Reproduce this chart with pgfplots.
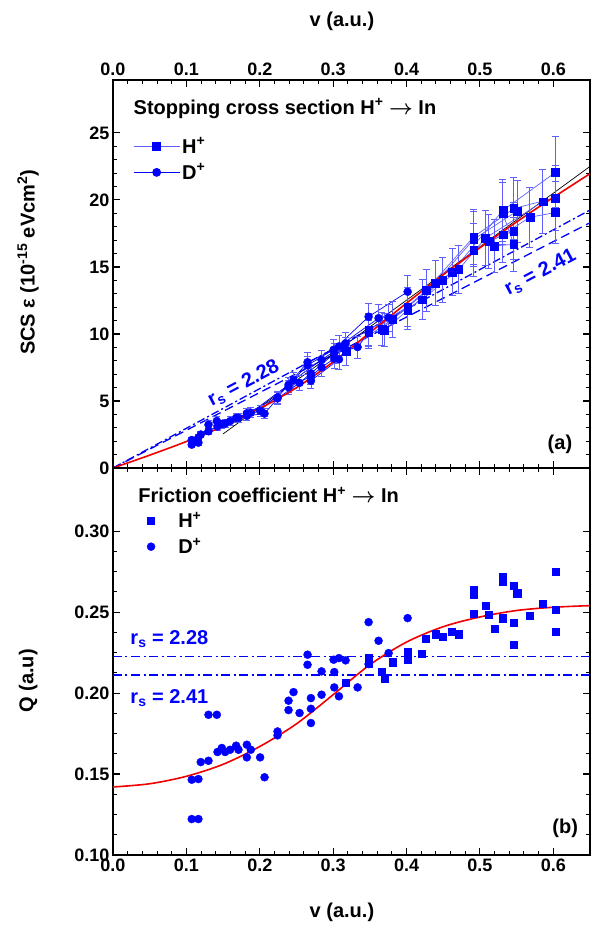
\documentclass[border=0pt]{standalone}
\usepackage{pgfplots}
\pgfplotsset{compat=1.18}
\usepackage{fontspec}
\setmainfont{Liberation Sans}
\definecolor{myblue}{RGB}{0,0,255}
\definecolor{lblue}{RGB}{95,95,255}
\definecolor{myred}{RGB}{240,0,0}
\newcommand{\tickfont}{\fontsize{18}{20}\selectfont\bfseries}
\newcommand{\labfont}{\fontsize{20}{24}\selectfont\bfseries}
\begin{document}
\begin{tikzpicture}
\pgfplotsset{
  every axis/.append style={
    scale only axis, width=477pt,
    xmin=0, xmax=0.65,
    xtick={0,0.1,0.2,0.3,0.4,0.5,0.6}, minor x tick num=4,
    tick align=inside, xtick pos=both, ytick pos=both,
    major tick length=7pt, minor tick length=4pt,
    axis line style={line width=1.3pt},
    major tick style={line width=1.1pt,black},
    minor tick style={line width=1pt,black},
    tick label style={font=\tickfont},
    /pgf/number format/assume math mode=true,
    x tick label style={/pgf/number format/fixed,/pgf/number format/fixed zerofill,/pgf/number format/precision=1},
    label style={font=\labfont},
  }
}
% ================= TOP PANEL =================
\begin{axis}[name=top, height=388pt,
  ymin=0, ymax=28.95, ytick={0,5,10,15,20,25}, minor y tick num=4,
  xticklabel pos=right,
  x tick label style={yshift=1pt},
  xlabel={v (a.u.)},
  xlabel style={at={(axis description cs:0.48,1)},anchor=center,yshift=59pt},
  ylabel={SCS ε (10\textsuperscript{-15} eVcm\textsuperscript{2})},
  ylabel style={at={(axis description cs:-0.178,0.53)},anchor=center},
  legend style={at={(axis description cs:0.04,0.86)},anchor=north west,draw=none,fill=none,
    font=\labfont,row sep=5pt,inner sep=1pt},
  legend cell align=left,
  legend image code/.code={\draw[mark repeat=2,mark phase=2,#1] plot coordinates {(0pt,0pt) (23pt,0pt) (46pt,0pt)};},
]
\addlegendimage{lblue,line width=0.8pt,mark=square*,mark size=3.8pt,mark options={myblue,solid}}
\addlegendentry{H\textsuperscript{+}}
\addlegendimage{myblue,line width=0.8pt,mark=*,mark size=4pt,mark options={myblue,solid}}
\addlegendentry{D\textsuperscript{+}}

% reference lines
\addplot[myblue,line width=1.3pt,dash pattern=on 8pt off 3pt on 2pt off 3pt,forget plot] coordinates {(0,0) (0.65,19.25)};
\addplot[myblue,line width=1.3pt,dash pattern=on 9pt off 5pt,forget plot] coordinates {(0,0) (0.65,18.3)};
\addplot[black,line width=0.7pt,forget plot] coordinates {(0.15,2.54) (0.65,22.5)};

% D+ connecting lines
\addplot[myblue,line width=0.7pt,no marks,forget plot] coordinates {(0.1073,2.09)(0.1196,2.50)(0.1424,3.10)(0.1596,3.50)(0.1824,4.08)(0.2242,5.26)(0.2651,7.89)(0.3006,8.82)(0.3483,11.29)(0.4015,13.15)};
\addplot[myblue,line width=0.7pt,no marks,forget plot] coordinates {(0.1164,2.27)(0.1301,2.74)(0.1483,3.28)(0.1678,3.74)(0.1878,4.12)(0.2392,6.21)(0.2651,7.67)(0.3079,9.07)(0.3619,11.18)};
\addplot[myblue,line width=0.7pt,no marks,forget plot] coordinates {(0.1073,1.74)(0.1164,1.89)(0.1301,3.23)(0.1415,3.51)(0.1528,3.32)(0.1710,3.75)(0.2005,4.27)(0.2460,6.56)(0.2842,8.07)(0.3170,9.28)(0.3756,11.22)};
\addplot[myblue,line width=0.7pt,no marks,forget plot] coordinates {(0.1824,3.89)(0.2065,4.06)(0.2242,5.19)(0.2542,6.35)(0.2697,7.06)(0.3015,8.54)(0.3333,9.02)(0.3483,10.09)};
\addplot[myblue,line width=0.7pt,no marks,forget plot] coordinates {(0.2392,6.03)(0.2697,6.83)(0.2842,7.52)(0.3015,8.16)};
\addplot[myblue,line width=0.7pt,no marks,forget plot] coordinates {(0.2697,6.51)(0.3079,8.11)};

% H+ connecting lines
\addplot[lblue,line width=0.7pt,no marks,forget plot] coordinates {(0.3483,10.27)(0.4015,12.03)(0.4620,14.63)(0.5312,19.22)(0.6030,22.06)};
\addplot[lblue,line width=0.7pt,no marks,forget plot] coordinates {(0.3665,10.38)(0.4266,13.25)(0.4916,17.25)(0.5461,19.36)(0.6030,20.16)};
\addplot[lblue,line width=0.7pt,no marks,forget plot] coordinates {(0.3174,8.70)(0.3811,11.11)(0.4393,13.81)(0.4916,17.07)(0.5507,19.17)};
\addplot[lblue,line width=0.7pt,no marks,forget plot] coordinates {(0.3483,10.12)(0.4211,12.56)(0.4711,14.81)(0.5075,17.15)(0.5857,19.87)};
\addplot[lblue,line width=0.7pt,no marks,forget plot] coordinates {(0.3697,10.27)(0.4015,11.78)(0.4493,14.02)(0.4916,16.27)(0.5312,17.40)(0.5680,18.71)(0.6030,19.06)};
\addplot[lblue,line width=0.7pt,no marks,forget plot] coordinates {(0.5121,16.92)(0.5461,17.69)};
\addplot[lblue,line width=0.7pt,no marks,forget plot] coordinates {(0.5198,16.57)(0.5461,16.69)(0.5312,19.00)};

% D+ points with error bars
\addplot[only marks,mark=*,mark size=4pt,myblue,forget plot,
  error bars/.cd,y dir=both,y fixed relative=0.09,
  error bar style={lblue,line width=0.8pt},
  error mark options={rotate=90,lblue,mark size=3.5pt,line width=0.8pt}]
 coordinates {
(0.1073,2.09)(0.1164,2.27)(0.1073,1.74)(0.1164,1.89)(0.1196,2.50)(0.1301,2.74)(0.1301,3.23)(0.1415,3.51)
(0.1424,3.10)(0.1483,3.28)(0.1528,3.32)(0.1596,3.50)(0.1678,3.74)(0.1710,3.75)(0.1824,4.08)(0.1824,3.89)
(0.1878,4.12)(0.2005,4.27)(0.2065,4.06)(0.2242,5.26)(0.2242,5.19)(0.2392,6.21)(0.2392,6.03)(0.2460,6.56)
(0.2542,6.35)(0.2651,7.89)(0.2651,7.67)(0.2697,7.06)(0.2697,6.83)(0.2697,6.51)(0.2842,8.07)(0.2842,7.52)
(0.3006,8.82)(0.3015,8.54)(0.3015,8.16)(0.3079,9.07)(0.3079,8.11)(0.3170,9.28)(0.3333,9.02)(0.3483,11.29)
(0.3483,10.09)(0.3619,11.18)(0.3756,11.22)(0.4015,13.15)};

% H+ points with error bars
\addplot[only marks,mark=square*,mark size=3.9pt,myblue,forget plot,
  error bars/.cd,y dir=both,y fixed relative=0.12,
  error bar style={lblue,line width=0.8pt},
  error mark options={rotate=90,lblue,mark size=3.5pt,line width=0.8pt}]
 coordinates {
(0.3174,8.70)(0.3483,10.27)(0.3483,10.12)(0.3665,10.38)(0.3697,10.27)(0.3811,11.11)(0.4015,12.03)(0.4015,11.78)
(0.4211,12.56)(0.4266,13.25)(0.4393,13.81)(0.4493,14.02)(0.4620,14.63)(0.4711,14.81)(0.4916,17.25)(0.4916,17.07)
(0.4916,16.27)(0.5075,17.15)(0.5121,16.92)(0.5198,16.57)(0.5312,19.22)(0.5312,19.00)(0.5312,17.40)(0.5461,19.36)
(0.5507,19.17)(0.5461,17.69)(0.5461,16.69)(0.5680,18.71)(0.5857,19.87)(0.6030,22.06)(0.6030,20.16)(0.6030,19.06)};

% fit
\addplot[myred,line width=1.6pt,smooth,forget plot] coordinates {(0,0)(0.05,0.958)(0.1,1.976)(0.15,3.11)(0.2,4.44)(0.25,5.99)(0.3,7.92)(0.35,10.1)(0.4,12.3)(0.45,14.42)(0.5,16.43)(0.55,18.36)(0.6,20.19)(0.65,21.96)};

\node[anchor=west,font=\labfont] at (axis description cs:0.036,0.927) {Stopping cross section H\textsuperscript{+} {\boldmath$\rightarrow$} In};
\node[font=\labfont] at (axis description cs:0.937,0.06) {(a)};
\node[rotate=28,text=myblue,font=\labfont] at (axis cs:0.178,6.3) {r\textsubscript{s} = 2.28};
\node[rotate=28,text=myblue,font=\labfont] at (axis cs:0.5825,14.6) {r\textsubscript{s} = 2.41};
\end{axis}

% ================= BOTTOM PANEL =================
\begin{axis}[at={([yshift=-2pt]top.south west)},anchor=north west, height=387pt,
  ymin=0.1, ymax=0.339, ytick={0.10,0.15,0.20,0.25,0.30}, minor y tick num=3,
  y tick label style={/pgf/number format/fixed,/pgf/number format/fixed zerofill,/pgf/number format/precision=2},
  xlabel={v (a.u.)},
  xlabel style={at={(axis description cs:0.48,0)},anchor=center,yshift=-57pt},
  ylabel={Q (a.u)},
  ylabel style={at={(axis description cs:-0.178,0.45)},anchor=center},
  legend style={at={(axis description cs:0.058,0.895)},anchor=north west,draw=none,fill=none,
    font=\labfont,row sep=5pt,inner sep=1pt},
  legend cell align=left,
  legend image code/.code={\path (0pt,0pt) (34pt,0pt); \draw[#1] plot coordinates {(9pt,0pt)};},
]
\addlegendimage{only marks,mark=square*,mark size=3.6pt,myblue}
\addlegendentry{H\textsuperscript{+}}
\addlegendimage{only marks,mark=*,mark size=4pt,myblue}
\addlegendentry{D\textsuperscript{+}}

\addplot[myblue,line width=1.3pt,dash pattern=on 9pt off 3.5pt on 2pt off 3.5pt,forget plot] coordinates {(0,0.2228) (0.65,0.2228)};
\addplot[myblue,line width=1.3pt,dash pattern=on 9pt off 3.5pt on 2pt off 3.5pt,forget plot] coordinates {(0,0.2111) (0.65,0.2111)};

\addplot[only marks,mark=*,mark size=4pt,myblue,forget plot] coordinates {
(0.1073,0.1465)(0.1164,0.1469)(0.1073,0.1222)(0.1164,0.1222)(0.1196,0.1574)(0.1301,0.1582)(0.1301,0.1866)(0.1415,0.1866)
(0.1424,0.1636)(0.1483,0.1661)(0.1528,0.1636)(0.1596,0.1650)(0.1678,0.1675)(0.1710,0.1650)(0.1824,0.1681)(0.1824,0.1603)
(0.1878,0.1650)(0.2005,0.1603)(0.2065,0.1480)(0.2242,0.1763)(0.2242,0.1739)(0.2392,0.1953)(0.2392,0.1895)(0.2460,0.2006)
(0.2542,0.1877)(0.2651,0.2237)(0.2651,0.2175)(0.2697,0.1969)(0.2697,0.1903)(0.2697,0.1815)(0.2842,0.2134)(0.2842,0.1990)
(0.3006,0.2206)(0.3015,0.2130)(0.3015,0.2035)(0.3079,0.2216)(0.3079,0.1980)(0.3170,0.2202)(0.3333,0.2035)(0.3483,0.2438)
(0.3483,0.2179)(0.3619,0.2323)(0.3756,0.2247)(0.4015,0.2463)};

\addplot[only marks,mark=square*,mark size=3.6pt,myblue,forget plot] coordinates {
(0.3174,0.2062)(0.3483,0.2216)(0.3483,0.2185)(0.3665,0.2130)(0.3697,0.2088)(0.3811,0.2191)(0.4015,0.2253)(0.4015,0.2206)
(0.4211,0.2243)(0.4266,0.2335)(0.4393,0.2364)(0.4493,0.2346)(0.4620,0.2381)(0.4711,0.2364)(0.4916,0.2638)(0.4916,0.2611)
(0.4916,0.2488)(0.5075,0.2541)(0.5121,0.2484)(0.5198,0.2397)(0.5312,0.2720)(0.5312,0.2689)(0.5312,0.2463)(0.5461,0.2665)
(0.5507,0.2617)(0.5461,0.2436)(0.5461,0.2298)(0.5680,0.2477)(0.5857,0.2551)(0.6030,0.2751)(0.6030,0.2514)(0.6030,0.2377)};

\addplot[myred,line width=1.6pt,smooth,forget plot] coordinates {(0,0.142)(0.05,0.1440)(0.1,0.1486)(0.15,0.156)(0.2,0.167)(0.25,0.181)(0.3,0.199)(0.35,0.2175)(0.4,0.2315)(0.45,0.241)(0.5,0.247)(0.55,0.251)(0.6,0.253)(0.65,0.254)};

\node[anchor=west,font=\labfont] at (axis description cs:0.046,0.930) {Friction coefficient H\textsuperscript{+} {\boldmath$\rightarrow$} In};
\node[font=\labfont] at (axis description cs:0.948,0.07) {(b)};
\node[anchor=base west,text=myblue,font=\labfont] at (axis cs:0.019,0.2302) {r\textsubscript{s} = 2.28};
\node[anchor=base west,text=myblue,font=\labfont] at (axis cs:0.019,0.1938) {r\textsubscript{s} = 2.41};
\end{axis}
\pgfresetboundingbox
\path[use as bounding box] ([shift={(-113pt,80pt)}]top.north west) rectangle ([shift={(481pt,-848pt)}]top.north west);
\end{tikzpicture}
\end{document}
